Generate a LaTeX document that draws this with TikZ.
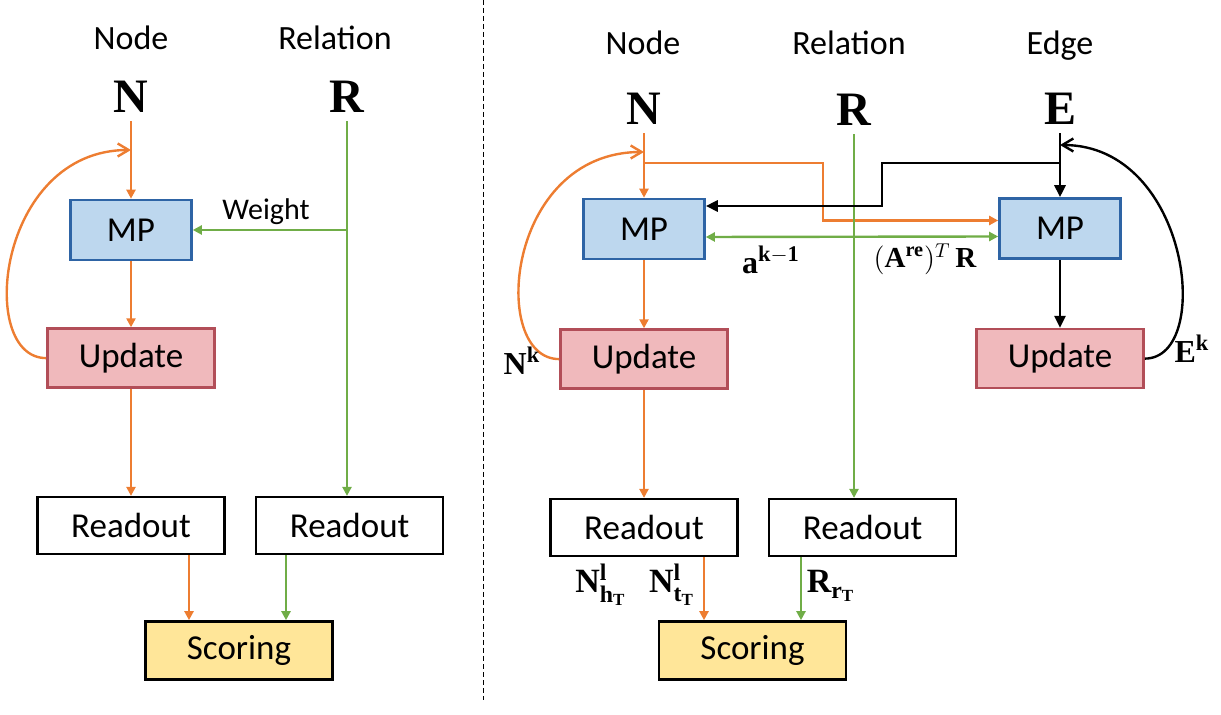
\documentclass[tikz,border=0pt]{standalone}
\usepackage{amsmath}
\usepackage{fontspec}
\setmainfont{Carlito}
\newfontfamily\tnr{Liberation Serif}
\usetikzlibrary{arrows.meta, positioning, calc}

\definecolor{orng}{RGB}{237,125,49}
\definecolor{grn}{RGB}{112,173,71}
\definecolor{mpfill}{RGB}{189,215,238}
\definecolor{mpline}{RGB}{46,100,165}
\definecolor{updfill}{RGB}{240,185,188}
\definecolor{updline}{RGB}{178,78,88}
\definecolor{scfill}{RGB}{255,230,153}

\newcommand{\bsym}[1]{\text{\tnr\bfseries #1}}

\begin{document}
\begin{tikzpicture}[x=0.5pt, y=-0.5pt, >={Triangle[length=4.5pt,width=4.5pt]},
    box/.style={draw, line width=1.3pt, font=\fontsize{17.5}{20}\selectfont, inner sep=0pt},
    mpbox/.style={box, draw=mpline, fill=mpfill, minimum width=60.5pt, minimum height=30pt},
    updbox/.style={box, draw=updline, fill=updfill, minimum width=83.5pt, minimum height=29.5pt},
    outbox/.style={box, draw=black, fill=white, minimum width=93.5pt, minimum height=28.5pt},
    scbox/.style={box, draw=black, fill=scfill, minimum width=93.5pt, minimum height=29pt},
    hdr/.style={anchor=base, font=\fontsize{17}{20}\selectfont},
    sym/.style={anchor=base, font=\fontsize{24}{28}\selectfont\tnr\bfseries, inner sep=4pt},
    lbl/.style={anchor=base, font=\fontsize{16}{19}\selectfont},
    oarr/.style={draw=orng, line width=1.2pt, ->},
    garr/.style={draw=grn, line width=1.2pt, ->},
    barr/.style={draw=black, line width=1.4pt, -{Triangle[length=6pt,width=5.5pt]}},
    loopline/.style={line width=1.2pt, -{Straight Barb[length=5.5pt,width=6.5pt]}}]
    \useasboundingbox (0,0) rectangle (1221,715);

    % left: node and relation
    \node[hdr] (hnL) at (131,50) {Node};
    \node[hdr] (hrL) at (335,50) {Relation};
    \node[sym] (nL) at (131,113) {N};
    \node[sym] (rL) at (347,113) {R};

    \node[mpbox] (mpL) at (131,230) {MP};
    \node[updbox, below=33pt of mpL] (updL) {Update};
    \node[outbox, below=53.5pt of updL] (roL) {Readout};
    \node[outbox, right=14.5pt of roL] (roRL) {Readout};
    \node[scbox] (scL) at (239,650.5) {Scoring};

    \coordinate (lpL) at (131,150);
    \coordinate (wbr) at (rL |- mpL.east);
    \coordinate (oL) at ($(scL.north)+(-50,0)$);
    \coordinate (gL) at ($(scL.north)+(47,0)$);

    \draw[oarr] (nL) -- (mpL);
    \draw[oarr] (mpL) -- (updL);
    \draw[oarr] (updL) -- (roL);
    \draw[orng, loopline] (updL.west) .. controls +(-70,0) and +(-134,0) .. (lpL);
    \draw[garr] (rL) -- (rL |- roRL.north);
    \draw[garr] (wbr) -- (mpL.east);
    \node[anchor=base, font=\fontsize{15}{18}\selectfont] (wt) at (266,220) {Weight};
    \draw[oarr] (oL |- roL.south) -- (oL);
    \draw[garr] (gL |- roRL.south) -- (gL);

    \draw[dashed, dash pattern=on 2.5pt off 1.5pt, line width=0.5pt] (483,0) -- (483,700);

    % right: node, relation and edge
    \node[hdr] (hnN) at (643,55) {Node};
    \node[hdr] (hrN) at (849,55) {Relation};
    \node[hdr] (heE) at (1060,55) {Edge};
    \node[sym] (nN) at (644,125) {N};
    \node[sym] (rN) at (854,126) {R};
    \node[sym] (eE) at (1060,125) {E};

    \node[mpbox] (mpN) at (644,229) {MP};
    \node[updbox, below=34pt of mpN] (updN) {Update};
    \node[outbox, below=54pt of updN] (roN) {Readout};
    \node[outbox, right=14.5pt of roN] (roR) {Readout};
    \node[mpbox] (mpE) at (1060,228.5) {MP};
    \node[updbox, below=34pt of mpE] (updE) {Update};
    \node[scbox] (scN) at (752.5,650.5) {Scoring};

    \coordinate (lpN) at (644,152);
    \coordinate (nbr) at (644,163);
    \coordinate (ebr) at (1060,163);
    \coordinate (lpE) at (1060,145);
    \coordinate (oN) at ($(scN.north)+(-48.5,0)$);
    \coordinate (gN) at ($(scN.north)+(48.5,0)$);

    \draw[oarr] (nN) -- (mpN);
    \draw[oarr] (mpN) -- (updN);
    \draw[oarr] (updN) -- (roN);
    \draw[orng, loopline] (updN.west) .. controls +(-70,0) and +(-139,0) .. (lpN);
    \draw[oarr] (nbr) -- ++(179,0) |- ($(mpE.west)+(0,-8)$);
    \draw[garr] (rN) -- (rN |- roR.north);
    \draw[garr, <->] ($(mpN.east)+(0,8)$) -- ($(mpE.west)+(0,8)$);
    \draw[barr] (eE) -- (mpE);
    \draw[barr] (mpE) -- (updE);
    \draw[barr] (ebr) -- ++(-178,0) |- ($(mpN.east)+(0,-23)$);
    \draw[loopline] (updE.east) .. controls +(69,0) and +(130,0) .. (lpE);
    \draw[oarr] (oN |- roN.south) -- (oN);
    \draw[garr] (gN |- roR.south) -- (gN);

    % labels
    \node[lbl] (akl) at (771,274) {$\bsym{a}^{\bsym{k}-\bsym{1}}$};
    \node[lbl, font=\fontsize{14.5}{17}\selectfont] (arl) at (925,268) {$(\bsym{A}^{\bsym{re}})^{T}\,\bsym{R}$};
    \node[lbl] (nkl) at (522,375) {$\bsym{N}^{\bsym{k}}$};
    \node[lbl] (ekl) at (1192,363) {$\bsym{E}^{\bsym{k}}$};
    \node[lbl, font=\fontsize{17}{20}\selectfont] (nhl) at (601,593) {$\bsym{N}^{\bsym{l}}_{\bsym{h}_{\bsym{T}}}$};
    \node[lbl, font=\fontsize{17}{20}\selectfont] (ntl) at (672,593) {$\bsym{N}^{\bsym{l}}_{\bsym{t}_{\bsym{T}}}$};
    \node[lbl, font=\fontsize{17}{20}\selectfont] (rrl) at (831,593) {$\bsym{R}_{\bsym{r}_{\bsym{T}}}$};
\end{tikzpicture}
\end{document}
